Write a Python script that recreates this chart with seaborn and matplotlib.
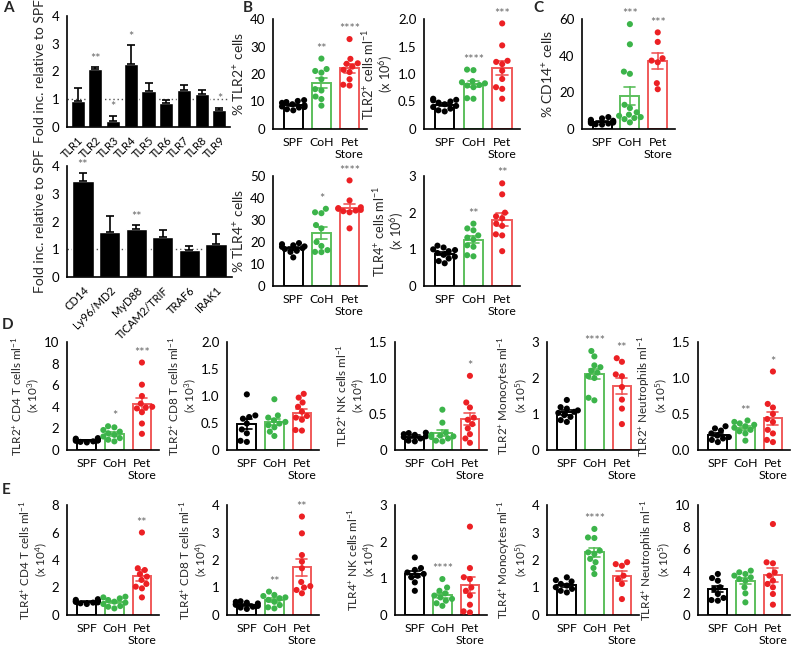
import seaborn as sns
import matplotlib.pyplot as plt
import pandas as pd
import numpy as np

groups = ['SPF', 'CoH', 'Pet Store']
group_ticks = ['SPF', 'CoH', 'Pet\nStore']
pts_pal = {'SPF': '#000000', 'CoH': '#3cb44a', 'Pet Store': '#ec2024'}
bar_pal = {'SPF': '#000000', 'CoH': '#5cbf5c', 'Pet Store': '#f05a5a'}

# A - fold increase relative to SPF (mean, sem)
tlr_genes = ['TLR1', 'TLR2', 'TLR3', 'TLR4', 'TLR5', 'TLR6', 'TLR7', 'TLR8', 'TLR9']
tlr_mean = [0.92, 2.08, 0.23, 2.27, 1.30, 0.85, 1.33, 1.20, 0.60]
tlr_sem = [0.47, 0.08, 0.18, 0.68, 0.30, 0.12, 0.17, 0.12, 0.10]
tlr_stars = ['', '**', '*', '*', '', '', '', '', '*']
adapt_genes = ['CD14', 'Ly96/MD2', 'MyD88', 'TICAM2/TRIF', 'TRAF6', 'IRAK1']
adapt_mean = [3.47, 1.62, 1.73, 1.43, 0.98, 1.18]
adapt_sem = [0.28, 0.58, 0.15, 0.28, 0.15, 0.37]
adapt_stars = ['**', '', '**', '', '', '']

# B / C - per mouse values (SPF, CoH, Pet Store)
tlr2_pct = ([10.5, 10.2, 9.8, 9.5, 9.0, 8.6, 8.2, 7.8, 7.2, 6.8, 8.0],
            [25.6, 21.8, 21.1, 20.5, 18.1, 14.5, 14.0, 11.8, 10.9, 8.5],
            [32.7, 25.5, 23.9, 23.7, 22.7, 21.5, 20.7, 18.1, 16.1, 15.8])
tlr2_abs = ([0.55, 0.53, 0.52, 0.50, 0.48, 0.45, 0.42, 0.40, 0.37, 0.34, 0.32],
            [1.08, 1.07, 0.87, 0.85, 0.83, 0.80, 0.79, 0.76, 0.56, 0.55],
            [1.92, 1.52, 1.24, 1.22, 1.18, 1.06, 0.91, 0.76, 0.73, 0.55])
tlr4_pct = ([19.5, 19.0, 18.5, 18.0, 17.8, 17.2, 16.8, 16.0, 15.5, 13.0],
            [35.1, 33.5, 33.1, 27.7, 26.2, 20.0, 18.2, 16.3, 15.5, 15.4],
            [48.0, 38.9, 35.8, 35.4, 35.1, 34.6, 34.3, 34.0, 33.5, 26.2])
tlr4_abs = ([1.10, 1.05, 1.00, 0.98, 0.95, 0.90, 0.85, 0.80, 0.75, 0.68, 0.62],
            [1.70, 1.57, 1.52, 1.38, 1.32, 1.27, 1.11, 1.07, 0.84, 0.81],
            [2.80, 2.50, 2.00, 1.90, 1.85, 1.70, 1.64, 1.41, 1.38, 0.95])
cd14_pct = ([6.5, 5.8, 5.0, 4.5, 4.2, 3.8, 3.5, 3.0, 2.6, 2.4, 3.2, 4.0],
            [57.2, 46.2, 30.1, 31.3, 13.2, 11.4, 9.1, 7.8, 7.2, 6.5, 6.0, 5.4, 3.6],
            [52.7, 47.5, 38.6, 37.3, 36.4, 25.0, 21.7])

# D - TLR2+ populations
d_cd4 = ([1.10, 1.05, 1.00, 0.95, 0.90, 0.88, 0.85, 0.80, 0.75, 0.70],
         [2.20, 2.10, 1.85, 1.70, 1.55, 1.40, 1.25, 1.10, 0.95, 0.80],
         [8.10, 6.05, 5.00, 4.30, 4.00, 3.95, 3.85, 3.50, 2.45, 1.50])
d_cd8 = ([1.03, 0.64, 0.61, 0.58, 0.49, 0.38, 0.31, 0.17, 0.15],
         [0.94, 0.64, 0.60, 0.55, 0.52, 0.49, 0.46, 0.42, 0.34, 0.26],
         [1.04, 0.97, 0.88, 0.80, 0.71, 0.63, 0.60, 0.56, 0.37, 0.36])
d_nk = ([0.24, 0.235, 0.22, 0.21, 0.19, 0.18, 0.16, 0.13, 0.12],
        [0.56, 0.38, 0.24, 0.21, 0.20, 0.19, 0.18, 0.16, 0.13, 0.12],
        [1.03, 0.66, 0.59, 0.45, 0.42, 0.36, 0.30, 0.22, 0.16, 0.10])
d_mono = ([1.39, 1.19, 1.15, 1.10, 1.06, 1.03, 0.97, 0.92, 0.83, 0.78],
          [2.75, 2.60, 2.35, 2.30, 2.20, 2.15, 2.05, 2.00, 1.45, 1.38],
          [2.55, 2.45, 2.10, 2.05, 1.75, 1.40, 1.15, 0.72])
d_neut = ([0.33, 0.30, 0.27, 0.23, 0.20, 0.18, 0.16, 0.14, 0.11],
          [0.41, 0.39, 0.37, 0.35, 0.33, 0.31, 0.28, 0.26, 0.23, 0.13],
          [1.09, 0.64, 0.59, 0.50, 0.43, 0.39, 0.28, 0.23, 0.14, 0.11])

# E - TLR4+ populations
e_cd4 = ([1.15, 1.10, 1.05, 1.00, 0.98, 0.95, 0.92, 0.90, 0.85, 0.80],
         [1.33, 1.28, 1.21, 1.09, 0.97, 0.90, 0.80, 0.65, 0.60, 0.48],
         [6.00, 3.40, 3.27, 2.98, 2.79, 2.55, 2.26, 1.94, 1.28, 2.06])
e_cd8 = ([0.50, 0.48, 0.45, 0.42, 0.40, 0.37, 0.33, 0.30, 0.27, 0.22],
         [0.85, 0.73, 0.69, 0.64, 0.61, 0.55, 0.48, 0.36, 0.28, 0.24],
         [3.58, 2.97, 2.18, 1.94, 1.70, 1.20, 1.05, 1.00, 0.91, 0.79])
e_nk = ([1.57, 1.28, 1.23, 1.16, 1.12, 1.07, 1.03, 0.89, 0.66],
        [0.98, 0.75, 0.66, 0.59, 0.53, 0.48, 0.44, 0.39, 0.32, 0.25],
        [2.41, 1.28, 1.03, 0.98, 0.75, 0.66, 0.53, 0.28, 0.10, 0.07])
e_mono = ([1.37, 1.27, 1.22, 1.13, 1.07, 1.01, 0.95, 0.88, 0.82],
          [3.13, 2.82, 2.80, 2.34, 2.28, 2.22, 2.04, 1.92, 1.71, 1.49],
          [1.92, 1.85, 1.79, 1.43, 1.31, 1.13, 0.58])
e_neut = ([3.73, 3.36, 3.12, 2.52, 2.36, 1.91, 1.55, 1.36, 1.30],
          [4.03, 3.88, 3.73, 3.58, 3.42, 3.27, 3.12, 2.52, 1.97, 1.15],
          [8.27, 4.79, 4.70, 3.88, 3.58, 3.12, 2.82, 2.52, 1.91, 0.94])

sns.set_style('white')
plt.rcParams['font.family'] = ['Lato', 'DejaVu Sans']
plt.rcParams['mathtext.fontset'] = 'custom'
plt.rcParams['mathtext.rm'] = 'Lato'
plt.rcParams['mathtext.it'] = 'Lato:italic'
plt.rcParams['mathtext.bf'] = 'Lato:bold'

W, H = 800, 646
fig = plt.figure(figsize=(8, 6.46), dpi=100)


def px_axes(l, t, r, b):
    return fig.add_axes([l / W, 1 - b / H, (r - l) / W, (b - t) / H])


def style_axis(ax):
    sns.despine(ax=ax)
    for s in ['left', 'bottom']:
        ax.spines[s].set_linewidth(1.2)
        ax.spines[s].set_color('black')
    ax.tick_params(direction='out', length=4, width=1.2, colors='black', labelsize=9.5, pad=1.5)
    ax.set_xlabel('')


def fold_bars(ax, genes, mean, sem, stars):
    sns.barplot(x=genes, y=mean, color='black', saturation=1, width=0.8, errorbar=None, ax=ax)
    ax.errorbar(range(len(genes)), mean, yerr=[np.zeros(len(sem)), sem], fmt='none',
                ecolor='black', elinewidth=1.2, capsize=3, capthick=1.2)
    ax.axhline(1, ls=(0, (1, 2)), color='#555555', lw=1, zorder=0.5)
    for i, s in enumerate(stars):
        if s:
            ax.text(i, mean[i] + sem[i] + 0.08, s, ha='center', va='bottom', fontsize=9, color='#666666')
    style_axis(ax)
    ax.set_ylim(0, 4)
    ax.set_yticks([0, 1, 2, 3, 4])
    ax.set_xlim(-0.6, len(genes) - 0.4)
    ax.set_xticks(range(len(genes)), genes, rotation=45, ha='right', rotation_mode='anchor', fontsize=8)
    ax.set_ylabel('Fold inc. relative to SPF', fontsize=10, labelpad=4)


def dot_bar(ax, vals, stars, top, ticks, ticklabels, ylabel, lab_size=8.4):
    df = pd.DataFrame({'group': np.repeat(groups, [len(v) for v in vals]),
                       'value': np.concatenate(vals)})
    sns.barplot(data=df, x='group', y='value', hue='group', order=groups, hue_order=groups,
                palette=bar_pal, fill=False, errorbar='se', capsize=0.4, width=0.68,
                linewidth=1.4, err_kws={'linewidth': 1.2}, legend=False, ax=ax)
    sns.swarmplot(data=df, x='group', y='value', hue='group', order=groups, hue_order=groups,
                  palette=pts_pal, size=4.4, legend=False, ax=ax)
    for i, s in enumerate(stars):
        if s:
            ax.text(i, max(vals[i]) + top * 0.035, s, ha='center', va='bottom',
                    fontsize=9, color='#666666')
    style_axis(ax)
    ax.set_ylim(0, top)
    ax.set_yticks(ticks, ticklabels)
    ax.set_xlim(-0.72, 2.62)
    ax.set_xticks(range(3), group_ticks, fontsize=8.8, linespacing=1.1)
    ax.set_ylabel(ylabel, fontsize=lab_size, labelpad=2, linespacing=1.1)


# panel A
fold_bars(px_axes(67, 16, 230, 127), tlr_genes, tlr_mean, tlr_sem, tlr_stars)
fold_bars(px_axes(67, 166, 232, 277), adapt_genes, adapt_mean, adapt_sem, adapt_stars)

# panel B
dot_bar(px_axes(273, 19, 367, 129), tlr2_pct, ['', '**', '****'], 40,
        [0, 10, 20, 30, 40], ['0', '10', '20', '30', '40'], '% TLR2$^{+}$ cells', 10)
dot_bar(px_axes(424, 19, 520, 129), tlr2_abs, ['', '****', '***'], 2.0,
        [0, 0.5, 1, 1.5, 2], ['0', '0.5', '1.0', '1.5', '2.0'],
        'TLR2$^{+}$ cells ml$^{-1}$\n(x 10$^{6}$)', 9.2)
dot_bar(px_axes(273, 176, 367, 286), tlr4_pct, ['', '*', '****'], 50,
        [0, 10, 20, 30, 40, 50], ['0', '10', '20', '30', '40', '50'], '% TLR4$^{+}$ cells', 10)
dot_bar(px_axes(424, 176, 520, 286), tlr4_abs, ['', '**', '**'], 3,
        [0, 1, 2, 3], ['0', '1', '2', '3'], 'TLR4$^{+}$ cells ml$^{-1}$\n(x 10$^{6}$)', 9.2)

# panel C
dot_bar(px_axes(582, 19, 675, 129), cd14_pct, ['', '***', '***'], 60,
        [0, 20, 40, 60], ['0', '20', '40', '60'], '% CD14$^{+}$ cells', 10)

lefts = [67, 227, 395, 547, 698]

# panel D
d_data = [d_cd4, d_cd8, d_nk, d_mono, d_neut]
d_stars = [['', '*', '***'], ['', '', ''], ['', '', '*'], ['', '****', '**'], ['', '**', '*']]
d_tops = [10, 2.0, 1.5, 3, 1.5]
d_ticks = [[0, 2, 4, 6, 8, 10], [0, 0.5, 1, 1.5, 2], [0, 0.5, 1, 1.5], [0, 1, 2, 3], [0, 0.5, 1, 1.5]]
d_ticklabels = [['0', '2', '4', '6', '8', '10'], ['0', '0.5', '1.0', '1.5', '2.0'],
                ['0', '0.5', '1.0', '1.5'], ['0', '1', '2', '3'], ['0.0', '0.5', '1.0', '1.5']]
d_labels = ['TLR2$^{+}$ CD4 T cells ml$^{-1}$\n(x 10$^{3}$)',
            'TLR2$^{+}$ CD8 T cells ml$^{-1}$\n(x 10$^{3}$)',
            'TLR2$^{+}$ NK cells ml$^{-1}$\n(x 10$^{4}$)',
            'TLR2$^{+}$ Monocytes ml$^{-1}$\n(x 10$^{5}$)',
            'TLR2$^{+}$ Neutrophils ml$^{-1}$\n(x 10$^{5}$)']
for k in range(5):
    dot_bar(px_axes(lefts[k], 342, lefts[k] + 92, 450), d_data[k], d_stars[k], d_tops[k],
            d_ticks[k], d_ticklabels[k], d_labels[k])

# panel E
e_data = [e_cd4, e_cd8, e_nk, e_mono, e_neut]
e_stars = [['', '', '**'], ['', '**', '**'], ['', '****', ''], ['', '****', ''], ['', '', '']]
e_tops = [8, 4, 3, 4, 10]
e_ticks = [[0, 2, 4, 6, 8], [0, 1, 2, 3, 4], [0, 1, 2, 3], [0, 1, 2, 3, 4], [0, 2, 4, 6, 8, 10]]
e_labels = ['TLR4$^{+}$ CD4 T cells ml$^{-1}$\n(x 10$^{4}$)',
            'TLR4$^{+}$ CD8 T cells ml$^{-1}$\n(x 10$^{4}$)',
            'TLR4$^{+}$ NK cells ml$^{-1}$\n(x 10$^{4}$)',
            'TLR4$^{+}$ Monocytes ml$^{-1}$\n(x 10$^{5}$)',
            'TLR4$^{+}$ Neutrophils ml$^{-1}$\n(x 10$^{5}$)']
for k in range(5):
    dot_bar(px_axes(lefts[k], 505, lefts[k] + 92, 615), e_data[k], e_stars[k], e_tops[k],
            e_ticks[k], [str(t) for t in e_ticks[k]], e_labels[k])

for letter, x, y in [('A', 3, 8), ('B', 243, 8), ('C', 533, 8), ('D', 2, 325), ('E', 2, 490)]:
    fig.text(x / W, 1 - y / H, letter, fontsize=11, fontweight='bold', va='center', ha='left')

plt.savefig('out.png', dpi=100)
